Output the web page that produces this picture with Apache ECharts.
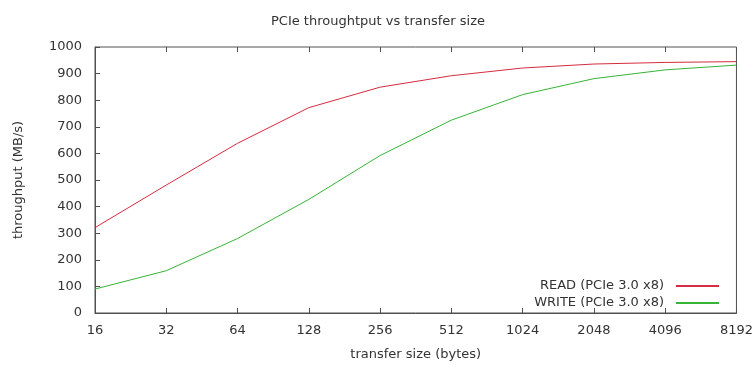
<!DOCTYPE html>
<html>
<head>
<meta charset="utf-8">
<script src="https://cdn.jsdelivr.net/npm/echarts@6/dist/echarts.min.js"></script>
<style>
html,body{margin:0;padding:0;background:#fff;}
#chart{width:756px;height:366px;}
</style>
</head>
<body>
<div id="chart"></div>
<script>
var sizes = [16, 32, 64, 128, 256, 512, 1024, 2048, 4096, 8192];
var readValues = [321, 481, 638, 772, 849, 892, 921, 936, 942, 945];
var writeValues = [90, 159, 280, 427, 592, 725, 821, 881, 914, 932];
var seriesNames = ['READ (PCIe 3.0 x8)', 'WRITE (PCIe 3.0 x8)'];
var yTicks = [0, 100, 200, 300, 400, 500, 600, 700, 800, 900, 1000];

function pairs(vals) { return sizes.map(function (s, i) { return [s, vals[i]]; }); }

var FONT = 'DejaVu Sans';
var TXT = '#333';
var AX = '#505050';
var chart = echarts.init(document.getElementById('chart'), null, {renderer: 'canvas'});
chart.setOption({
  animation: false,
  backgroundColor: '#fff',
  textStyle: {fontFamily: FONT},
  title: {
    text: 'PCIe throughtput vs transfer size',
    left: 'center', top: 10,
    textStyle: {fontFamily: FONT, fontSize: 13, fontWeight: 'normal', color: TXT}
  },
  grid: {left: 95, right: 18, top: 47, bottom: 50, show: true, borderColor: AX, borderWidth: 1, backgroundColor: 'transparent'},
  legend: {
    orient: 'vertical', right: 32, top: 273, align: 'right',
    itemWidth: 43, itemHeight: 2, itemGap: 1, icon: 'rect',
    textStyle: {fontFamily: FONT, fontSize: 13, color: TXT, lineHeight: 16, padding: [0, 7, 0, 0]},
    data: seriesNames
  },
  xAxis: [{
    type: 'log', logBase: 2, min: sizes[0], max: sizes[sizes.length - 1], interval: 1,
    name: 'transfer size (bytes)', nameLocation: 'middle', nameGap: 35,
    nameTextStyle: {fontFamily: FONT, fontSize: 13, color: TXT},
    axisLine: {show: true, lineStyle: {color: AX}},
    axisTick: {show: true, inside: true, length: 5, lineStyle: {color: AX}},
    axisLabel: {fontFamily: FONT, fontSize: 13, color: TXT, margin: 11,
      formatter: function (v) { return String(Math.round(v)); }},
    splitLine: {show: false}
  }, {
    type: 'log', logBase: 2, min: sizes[0], max: sizes[sizes.length - 1], interval: 1, position: 'top',
    axisLine: {show: false},
    axisTick: {show: true, inside: true, length: 5, lineStyle: {color: AX}},
    axisLabel: {show: false}, splitLine: {show: false}
  }],
  yAxis: {
    type: 'value', min: yTicks[0], max: yTicks[yTicks.length - 1], interval: 100,
    name: 'throughput (MB/s)', nameLocation: 'middle', nameGap: 70,
    nameTextStyle: {fontFamily: FONT, fontSize: 13, color: TXT},
    axisLine: {show: true, lineStyle: {color: AX}},
    axisTick: {show: true, inside: true, length: 5, lineStyle: {color: AX}},
    axisLabel: {fontFamily: FONT, fontSize: 13, color: TXT, margin: 13,
      formatter: function (v) { return String(v); }},
    splitLine: {show: false}
  },
  series: [{
    name: seriesNames[0], type: 'line', data: pairs(readValues),
    showSymbol: false, symbol: 'none', color: '#d42c40',
    lineStyle: {width: 1, color: '#d42c40'}
  }, {
    name: seriesNames[1], type: 'line', data: pairs(writeValues),
    showSymbol: false, symbol: 'none', color: '#36b436',
    lineStyle: {width: 1, color: '#36b436'}
  }]
});
</script>
</body>
</html>
